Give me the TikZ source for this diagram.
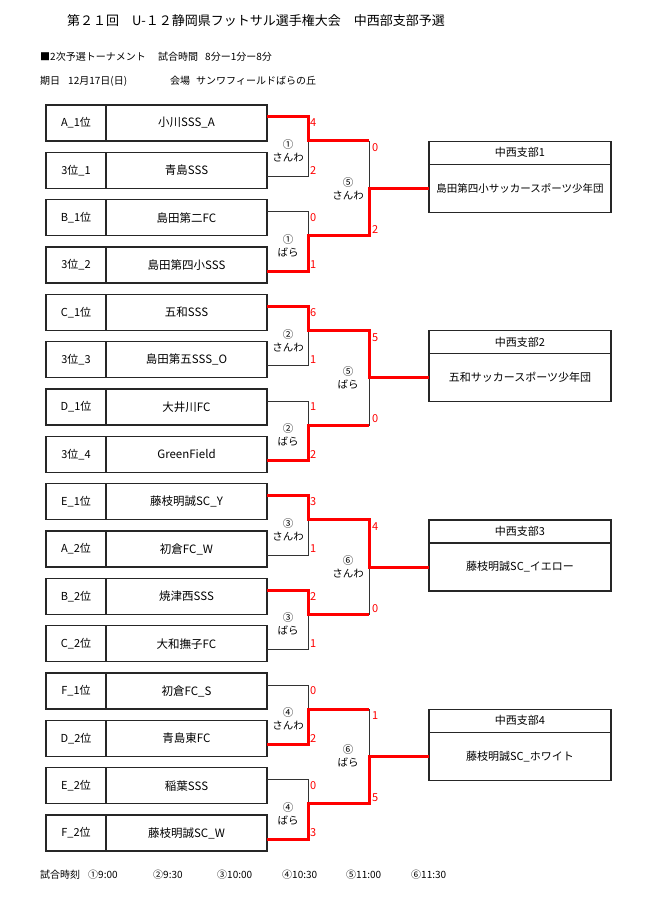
\documentclass[tikz,border=0pt]{standalone}
\usepackage{fontspec}
\setmainfont{Noto Sans CJK JP}
\usepackage{tikz}
\usetikzlibrary{positioning,calc}
\tikzset{x=1pt, y=-1pt}
\tikzstyle{rank}=[draw=black!85, line width=1.2pt, rectangle, outer sep=0pt, inner sep=0pt, minimum width=60pt, minimum height=36pt, font=\fontsize{11}{13}\selectfont]
\tikzstyle{team}=[rank, minimum width=161pt, font=\fontsize{11.5}{13}\selectfont]
\tikzstyle{res}=[rank, minimum width=182pt, minimum height=48pt, font=\fontsize{11}{13}\selectfont]
\tikzstyle{hd}=[res, minimum height=23pt]
\tikzstyle{bk}=[draw=black!80, line width=0.9pt]
\tikzstyle{win}=[draw=red, line width=3pt]
\tikzstyle{score}=[text=red, inner sep=0pt, anchor=west, font=\fontsize{11}{12}\selectfont]
\tikzstyle{game}=[align=center, inner sep=0pt, font=\fontsize{10.5}{13}\selectfont]
\tikzstyle{txt}=[anchor=west, inner sep=0pt, font=\fontsize{10}{12}\selectfont]

\begin{document}
\begin{tikzpicture}
        \useasboundingbox (0,0) rectangle (650,904);
        \node[font=\fontsize{13}{15}\selectfont] (title) at (256,21) {第２１回　U-１２静岡県フットサル選手権大会　中西部支部予選};
        \node[txt] (kind) at (40,57) {■2次予選トーナメント};
        \node[txt] (timek) at (158,57) {試合時間};
        \node[txt] (timev) at (205,57) {8分ー1分ー8分};
        \node[txt] (datek) at (40,81) {期日};
        \node[txt] (datev) at (68,81) {12月17日(日)};
        \node[txt] (placek) at (170,81) {会場};
        \node[txt] (placev) at (196,81) {サンワフィールドばらの丘};

        \node[rank] (r1) at (76,123) {A\_1位};
        \node[team, right=0pt of r1] (t1) {小川SSS\_A};
        \node[rank] (r2) at (76,170.3) {3位\_1};
        \node[team, right=0pt of r2] (t2) {青島SSS};
        \node[rank] (r3) at (76,217.7) {B\_1位};
        \node[team, right=0pt of r3] (t3) {島田第二FC};
        \node[rank] (r4) at (76,265) {3位\_2};
        \node[team, right=0pt of r4] (t4) {島田第四小SSS};
        \node[rank] (r5) at (76,312.3) {C\_1位};
        \node[team, right=0pt of r5] (t5) {五和SSS};
        \node[rank] (r6) at (76,359.7) {3位\_3};
        \node[team, right=0pt of r6] (t6) {島田第五SSS\_O};
        \node[rank] (r7) at (76,407) {D\_1位};
        \node[team, right=0pt of r7] (t7) {大井川FC};
        \node[rank] (r8) at (76,454.3) {3位\_4};
        \node[team, right=0pt of r8] (t8) {GreenField};
        \node[rank] (r9) at (76,501.7) {E\_1位};
        \node[team, right=0pt of r9] (t9) {藤枝明誠SC\_Y};
        \node[rank] (r10) at (76,549) {A\_2位};
        \node[team, right=0pt of r10] (t10) {初倉FC\_W};
        \node[rank] (r11) at (76,596.3) {B\_2位};
        \node[team, right=0pt of r11] (t11) {焼津西SSS};
        \node[rank] (r12) at (76,643.7) {C\_2位};
        \node[team, right=0pt of r12] (t12) {大和撫子FC};
        \node[rank] (r13) at (76,691) {F\_1位};
        \node[team, right=0pt of r13] (t13) {初倉FC\_S};
        \node[rank] (r14) at (76,738.3) {D\_2位};
        \node[team, right=0pt of r14] (t14) {青島東FC};
        \node[rank] (r15) at (76,785.7) {E\_2位};
        \node[team, right=0pt of r15] (t15) {稲葉SSS};
        \node[rank] (r16) at (76,833) {F\_2位};
        \node[team, right=0pt of r16] (t16) {藤枝明誠SC\_W};

        \coordinate (m1) at (308,141);
        \coordinate (m2) at (308,235.7);
        \coordinate (m3) at (308,330.3);
        \coordinate (m4) at (308,425);
        \coordinate (m5) at (308,519.7);
        \coordinate (m6) at (308,614.3);
        \coordinate (m7) at (308,709);
        \coordinate (m8) at (308,803.7);
        \coordinate (s1) at (369,188.3);
        \coordinate (s2) at (369,377.7);
        \coordinate (s3) at (369,567);
        \coordinate (s4) at (369,756.3);

        \node[res] (w1) at (520,188.3) {\fontsize{10.5}{12}\selectfont 島田第四小サッカースポーツ少年団};
        \node[hd, above=0pt of w1] (h1) {中西支部1};
        \node[res] (w2) at (520,377.7) {五和サッカースポーツ少年団};
        \node[hd, above=0pt of w2] (h2) {中西支部2};
        \node[res] (w3) at (520,567) {藤枝明誠SC\_イエロー};
        \node[hd, above=0pt of w3] (h3) {中西支部3};
        \node[res] (w4) at (520,756.3) {藤枝明誠SC\_ホワイト};
        \node[hd, above=0pt of w4] (h4) {中西支部4};

        \draw[bk] ([yshift=6pt]t1.east) -| (m1);
        \draw[bk] ([yshift=-6pt]t2.east) -| (m1);
        \draw[bk] ([yshift=6pt]t3.east) -| (m2);
        \draw[bk] ([yshift=-6pt]t4.east) -| (m2);
        \draw[bk] (m1) -| (s1);
        \draw[bk] (m2) -| (s1);
        \draw[win] ([yshift=6pt]t1.east) -| (m1) -- (m1 -| s1);
        \draw[win] ([yshift=-6pt]t4.east) -| (m2) -| (s1) -- (w1.west);

        \draw[bk] ([yshift=6pt]t5.east) -| (m3);
        \draw[bk] ([yshift=-6pt]t6.east) -| (m3);
        \draw[bk] ([yshift=6pt]t7.east) -| (m4);
        \draw[bk] ([yshift=-6pt]t8.east) -| (m4);
        \draw[bk] (m3) -| (s2);
        \draw[bk] (m4) -| (s2);
        \draw[win] ([yshift=-6pt]t8.east) -| (m4) -- (m4 -| s2);
        \draw[win] ([yshift=6pt]t5.east) -| (m3) -| (s2) -- (w2.west);

        \draw[bk] ([yshift=6pt]t9.east) -| (m5);
        \draw[bk] ([yshift=-6pt]t10.east) -| (m5);
        \draw[bk] ([yshift=6pt]t11.east) -| (m6);
        \draw[bk] ([yshift=-6pt]t12.east) -| (m6);
        \draw[bk] (m5) -| (s3);
        \draw[bk] (m6) -| (s3);
        \draw[win] ([yshift=6pt]t11.east) -| (m6) -- (m6 -| s3);
        \draw[win] ([yshift=6pt]t9.east) -| (m5) -| (s3) -- (w3.west);

        \draw[bk] ([yshift=6pt]t13.east) -| (m7);
        \draw[bk] ([yshift=-6pt]t14.east) -| (m7);
        \draw[bk] ([yshift=6pt]t15.east) -| (m8);
        \draw[bk] ([yshift=-6pt]t16.east) -| (m8);
        \draw[bk] (m7) -| (s4);
        \draw[bk] (m8) -| (s4);
        \draw[win] ([yshift=-6pt]t14.east) -| (m7) -- (m7 -| s4);
        \draw[win] ([yshift=-6pt]t16.east) -| (m8) -| (s4) -- (w4.west);

        \node[score] (p1) at (310,123) {4};
        \node[score] (p2) at (310,170.3) {2};
        \node[score] (p3) at (310,217.7) {0};
        \node[score] (p4) at (310,265) {1};
        \node[score] (p5) at (310,312.3) {6};
        \node[score] (p6) at (310,359.7) {1};
        \node[score] (p7) at (310,407) {1};
        \node[score] (p8) at (310,454.3) {2};
        \node[score] (p9) at (310,501.7) {3};
        \node[score] (p10) at (310,549) {1};
        \node[score] (p11) at (310,596.3) {2};
        \node[score] (p12) at (310,643.7) {1};
        \node[score] (p13) at (310,691) {0};
        \node[score] (p14) at (310,738.3) {2};
        \node[score] (p15) at (310,785.7) {0};
        \node[score] (p16) at (310,833) {3};
        \node[score] (q1) at (372,148) {0};
        \node[score] (q2) at (372,229.7) {2};
        \node[score] (q3) at (372,337.3) {5};
        \node[score] (q4) at (372,419) {0};
        \node[score] (q5) at (372,526.7) {4};
        \node[score] (q6) at (372,608.3) {0};
        \node[score] (q7) at (372,716) {1};
        \node[score] (q8) at (372,797.7) {5};

        \node[game] (g1) at (288,151) {①\\さんわ};
        \node[game] (g2) at (288,245.7) {①\\ばら};
        \node[game] (g3) at (288,340.3) {②\\さんわ};
        \node[game] (g4) at (288,435) {②\\ばら};
        \node[game] (g5) at (288,529.7) {③\\さんわ};
        \node[game] (g6) at (288,624.3) {③\\ばら};
        \node[game] (g7) at (288,719) {④\\さんわ};
        \node[game] (g8) at (288,813.7) {④\\ばら};
        \node[game] (f1) at (348,188.3) {⑤\\さんわ};
        \node[game] (f2) at (348,377.7) {⑤\\ばら};
        \node[game] (f3) at (348,567) {⑥\\さんわ};
        \node[game] (f4) at (348,756.3) {⑥\\ばら};

        \node[txt] (clock) at (40,875) {試合時刻};
        \node[txt] (c1) at (88,875) {①9:00};
        \node[txt] (c2) at (153,875) {②9:30};
        \node[txt] (c3) at (217,875) {③10:00};
        \node[txt] (c4) at (282,875) {④10:30};
        \node[txt] (c5) at (346,875) {⑤11:00};
        \node[txt] (c6) at (411,875) {⑥11:30};
\end{tikzpicture}
\end{document}
